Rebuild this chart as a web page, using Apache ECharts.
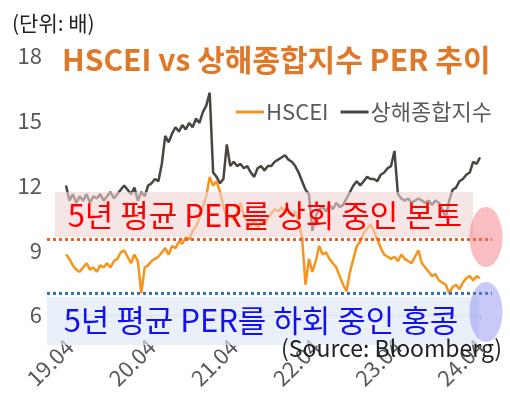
<!DOCTYPE html>
<html><head><meta charset="utf-8">
<script src="https://cdn.jsdelivr.net/npm/echarts@6/dist/echarts.min.js"></script>
<style>html,body{margin:0;padding:0;background:#fff}#c{width:510px;height:414px}</style>
</head><body><div id="c"></div>
<script>
// Tick labels shown on the x axis
const tickLabels = ['19.04','20.04','21.04','22.04','23.04','24.04'];

// Semi-monthly categories from 19.03 (2nd half) to 24.04 (1st half)
const categories = [];
for (let k = 0; k < 122; k++) {
  const t = k + 5;
  const month = Math.floor(t / 2);
  const yy = 19 + Math.floor(month / 12);
  const mm = (month % 12) + 1;
  categories.push(yy + '.' + String(mm).padStart(2, '0') + (t % 2 ? 'b' : 'a'));
}

// 상해종합지수 PER
const shanghai = [
  12.0,11.3,11.6,11.2,11.5,11.3,11.6,11.2,11.5,11.4,
  11.6,11.3,11.5,11.7,11.4,11.6,11.8,12.0,11.8,11.6,
  11.9,11.3,11.7,11.5,12.0,12.1,12.3,12.2,13.0,14.3,
  14.0,14.4,14.7,14.5,14.8,14.6,14.9,14.7,15.1,14.9,
  15.4,15.7,16.3,12.6,12.4,12.1,12.3,13.9,12.9,13.1,
  12.9,13.0,12.8,12.9,12.6,12.4,12.8,12.9,12.7,12.9,
  12.9,13.1,13.2,13.3,13.4,13.2,13.1,12.9,12.6,12.2,
  11.8,11.6,9.9,10.6,10.9,11.0,10.8,11.1,10.9,11.2,
  11.0,11.1,11.4,11.7,12.0,12.2,12.0,12.2,12.4,12.3,
  12.3,12.2,12.5,12.6,12.8,12.9,13.6,11.6,11.4,11.3,
  11.4,11.2,11.3,11.4,11.3,11.2,11.3,11.1,11.3,11.2,
  10.9,10.5,11.3,11.8,11.9,12.2,12.3,12.5,12.6,13.1,
  13.0,13.3
];

// HSCEI PER
const hscei = [
  8.8,8.6,8.3,8.1,8.0,8.2,8.4,8.1,8.2,8.0,
  8.3,8.2,8.4,8.2,8.5,8.6,8.9,9.0,8.7,8.4,
  8.8,8.5,7.0,8.2,8.3,8.5,8.6,8.7,8.9,9.1,
  8.8,9.2,9.1,9.4,9.3,9.6,9.5,9.9,10.1,10.5,
  11.0,11.5,12.4,12.0,12.2,11.7,11.0,10.5,10.6,10.4,
  10.8,11.2,10.6,10.3,10.1,10.4,10.0,10.3,10.2,10.5,
  10.7,10.9,10.8,11.0,10.7,10.9,10.6,10.8,10.3,9.6,
  7.4,8.6,8.0,8.5,9.2,8.8,8.9,8.6,8.4,8.2,
  7.8,7.4,7.1,8.0,8.6,9.2,9.4,9.8,10.0,10.2,
  9.9,9.5,9.1,8.8,8.7,8.6,8.7,8.5,8.8,8.6,
  8.5,8.4,8.7,9.0,8.4,8.2,8.0,7.8,7.9,7.6,
  7.5,7.4,7.0,7.3,7.4,7.2,7.5,7.7,7.8,7.6,
  7.8,7.7
];

// Reference (5-year average) levels
const refRed = 9.5;
const refBlue = 7.0;

const FONT = "'Noto Sans CJK KR','Noto Sans',sans-serif";
const showTick = (i, c) => c.slice(-1) === 'a' && tickLabels.includes(c.slice(0, 5));

const chart = echarts.init(document.getElementById('c'));
chart.setOption({
  animation: false,
  textStyle: { fontFamily: FONT },
  title: {
    text: 'HSCEI vs 상해종합지수 PER 추이',
    left: 57, top: 40,
    textStyle: { fontFamily: FONT, fontSize: 30, fontWeight: 'bold', color: '#E0782A' }
  },
  legend: {
    data: ['HSCEI', '상해종합지수'],
    left: 231, top: 96,
    icon: 'rect', itemWidth: 28, itemHeight: 3, itemGap: 12,
    textStyle: { fontFamily: FONT, fontSize: 22, color: '#595959', padding: [0, 0, 0, -3] }
  },
  grid: [
    { left: 66, right: 30, top: 56, bottom: 99 },
    { left: 47, right: 18, top: 56, bottom: 99 }
  ],
  xAxis: [
    {
      type: 'category', data: categories, boundaryGap: false, gridIndex: 0,
      axisLine: { lineStyle: { color: '#d9d9d9', width: 1 } },
      axisTick: { interval: showTick, length: 5, lineStyle: { color: '#d9d9d9' } },
      axisLabel: {
        interval: showTick, rotate: 45, margin: 28,
        formatter: c => c.slice(0, 5),
        fontFamily: FONT, fontSize: 22, color: '#595959'
      }
    },
    { type: 'value', gridIndex: 1, min: 0, max: 1, show: false }
  ],
  yAxis: [
    {
      type: 'value', gridIndex: 0, min: 6, max: 18, interval: 3,
      axisLine: { show: false }, axisTick: { show: false }, splitLine: { show: false },
      axisLabel: { margin: 24, fontFamily: FONT, fontSize: 22, color: '#595959' }
    },
    { type: 'value', gridIndex: 1, min: 6, max: 18, show: false }
  ],
  series: [
    {
      name: '상해종합지수', type: 'line', data: shanghai, showSymbol: false,
      lineStyle: { color: '#4B4540', width: 2.5 }, itemStyle: { color: '#4B4540' }
    },
    {
      name: 'HSCEI', type: 'line', data: hscei, showSymbol: false,
      lineStyle: { color: '#F7941D', width: 2.5 }, itemStyle: { color: '#F7941D' }
    },
    {
      type: 'line', xAxisIndex: 1, yAxisIndex: 1, silent: true, showSymbol: false,
      data: [[0, refRed], [1, refRed]],
      lineStyle: { color: '#F25A26', width: 3, type: [3, 3] }
    },
    {
      type: 'line', xAxisIndex: 1, yAxisIndex: 1, silent: true, showSymbol: false,
      data: [[0, refBlue], [1, refBlue]],
      lineStyle: { color: '#2E75B6', width: 3, type: [3, 3] }
    }
  ],
  graphic: [
    { type: 'text', left: 12, top: 13, z: 20,
      style: { text: '(단위: 배)', font: '21px ' + FONT, fill: '#222' } },
    { type: 'rect', z: 10, shape: { x: 55, y: 192, width: 418, height: 45 },
      style: { fill: 'rgba(240,212,212,0.6)' } },
    { type: 'text', z: 11, x: 265, y: 215,
      style: { text: '5년 평균 PER를 상회 중인 본토', font: '31px ' + FONT, fill: '#FF0000',
               textAlign: 'center', textVerticalAlign: 'middle' } },
    { type: 'rect', z: 10, shape: { x: 47, y: 297, width: 432, height: 48 },
      style: { fill: 'rgba(222,232,246,0.65)' } },
    { type: 'text', z: 11, x: 261, y: 320,
      style: { text: '5년 평균 PER를 하회 중인 홍콩', font: '31px ' + FONT, fill: '#1010F0',
               textAlign: 'center', textVerticalAlign: 'middle' } },
    { type: 'ellipse', z: 12, shape: { cx: 486, cy: 237, rx: 16.5, ry: 30 },
      style: { fill: 'rgba(240,110,120,0.45)' } },
    { type: 'ellipse', z: 12, shape: { cx: 486, cy: 312, rx: 16.5, ry: 30 },
      style: { fill: 'rgba(120,120,235,0.4)' } },
    { type: 'text', z: 20, x: 281, y: 348,
      style: { text: '(Source: Bloomberg)', font: '23px ' + FONT, fill: '#222',
               textVerticalAlign: 'middle' } }
  ]
});
</script>
</body></html>
